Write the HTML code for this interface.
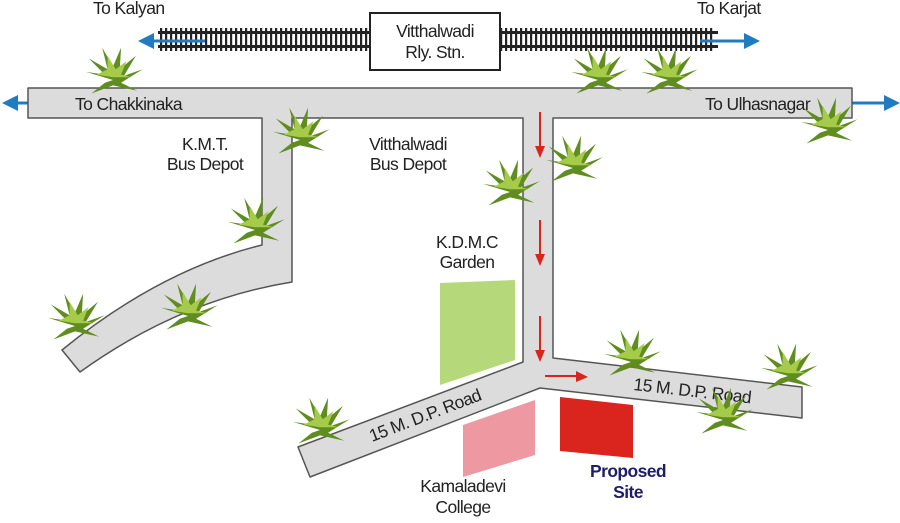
<!DOCTYPE html>
<html><head><style>body{margin:0;background:#fff}svg{display:block}text{font-family:"Liberation Sans",sans-serif;font-size:17.5px;letter-spacing:-0.6px}</style></head><body>
<svg width="900" height="523" viewBox="0 0 900 523" xmlns="http://www.w3.org/2000/svg">
<defs>
<pattern id="ties" x="0" y="0" width="5" height="30" patternUnits="userSpaceOnUse"><rect x="0" y="0" width="2.2" height="30" fill="#222"/></pattern>
<g id="tree" transform="scale(1.35)">
<path d="M0,0 L-20,-6 L-6,-4 L-18,-16 L-4,-8 L-8,-24 L0,-10 L6,-24 L5,-8 L17,-18 L8,-3 L22,-8 L6,2 L18,8 L0,4 L-16,10 L-6,2Z" fill="#5f8d1f"/>
<path d="M0,-2 L-12,-4 L-4,-8 L-4,-18 L2,-8 L10,-14 L6,-4 L14,-2Z" fill="#a6cb4a"/>
</g>
</defs>
<rect x="160" y="28" width="555" height="23" fill="url(#ties)"/>
<rect x="158" y="31" width="560" height="3" fill="#222"/>
<rect x="158" y="45" width="560" height="3" fill="#222"/>
<rect x="370" y="13" width="130" height="57" fill="#fff" stroke="#222" stroke-width="2"/>
<text x="435" y="37" text-anchor="middle" fill="#222">Vitthalwadi</text>
<text x="435" y="58" text-anchor="middle" fill="#222">Rly. Stn.</text>
<text x="93" y="14" fill="#222">To Kalyan</text>
<text x="697" y="14" fill="#222">To Karjat</text>
<g stroke="#1f7cc1" stroke-width="3"><line x1="205" y1="41" x2="150" y2="41"/><line x1="700" y1="41" x2="748" y2="41"/><line x1="60" y1="103" x2="14" y2="103"/><line x1="848" y1="103" x2="888" y2="103"/></g>
<g fill="#1f7cc1"><path d="M138,41 L154,33 L154,49Z"/><path d="M760,41 L744,33 L744,49Z"/><path d="M2,103 L18,95 L18,111Z"/><path d="M900,103 L884,95 L884,111Z"/></g>
<g fill="#dcdcdc" stroke="#555" stroke-width="1.5" stroke-linejoin="round">
<path d="M28,88 L852,88 L852,118 L553,118 L553,358 L802,387 L802,418 L540,388 L310,477 L298,447 L523,362 L523,118 L292,118 L292,282 Q180,300 80,372 L62,350 Q160,270 262,245 L262,118 L28,118Z"/>
</g>
<text x="75" y="110" fill="#222">To Chakkinaka</text>
<text x="705" y="110" fill="#222">To Ulhasnagar</text>
<text x="205" y="150" text-anchor="middle" fill="#222">K.M.T.</text>
<text x="205" y="170" text-anchor="middle" fill="#222">Bus Depot</text>
<text x="408" y="150" text-anchor="middle" fill="#222">Vitthalwadi</text>
<text x="408" y="170" text-anchor="middle" fill="#222">Bus Depot</text>
<text x="467" y="248" text-anchor="middle" fill="#222">K.D.M.C</text>
<text x="467" y="268" text-anchor="middle" fill="#222">Garden</text>
<text x="0" y="0" fill="#222" transform="translate(372,442) rotate(-21)">15 M. D.P. Road</text>
<text x="0" y="0" fill="#222" transform="translate(633,390) rotate(6.5)">15 M. D.P. Road</text>
<path d="M440,283 L515,280 L515,360 L440,385Z" fill="#b5d97a"/>
<path d="M463,425 L535,400 L535,455 L463,477Z" fill="#ee98a2"/>
<path d="M560,397 L633,405 L633,458 L560,451Z" fill="#d9251d"/>
<text x="463" y="492" text-anchor="middle" fill="#222">Kamaladevi</text>
<text x="463" y="513" text-anchor="middle" fill="#222">College</text>
<text x="628" y="477" font-weight="bold" text-anchor="middle" fill="#1f1d6b">Proposed</text>
<text x="628" y="498" font-weight="bold" text-anchor="middle" fill="#1f1d6b">Site</text>
<g stroke="#d9251d" stroke-width="2"><line x1="540" y1="112" x2="540" y2="148"/><line x1="540" y1="220" x2="540" y2="256"/><line x1="540" y1="316" x2="540" y2="352"/><line x1="545" y1="376" x2="578" y2="376"/></g>
<g fill="#d9251d"><path d="M540,158 L535,146 L545,146Z"/><path d="M540,266 L535,254 L545,254Z"/><path d="M540,362 L535,350 L545,350Z"/><path d="M588,377 L576,371 L576,382Z"/></g>
<use href="#tree" x="113" y="80"/><use href="#tree" x="598" y="80"/><use href="#tree" x="668" y="80"/>
<use href="#tree" x="300" y="140"/><use href="#tree" x="573" y="168"/><use href="#tree" x="510" y="192"/>
<use href="#tree" x="255" y="230"/><use href="#tree" x="75" y="326"/><use href="#tree" x="188" y="316"/>
<use href="#tree" x="828" y="130"/><use href="#tree" x="631" y="362"/><use href="#tree" x="788" y="376"/>
<use href="#tree" x="723" y="420"/><use href="#tree" x="320" y="430"/>
</svg>
</body></html>
